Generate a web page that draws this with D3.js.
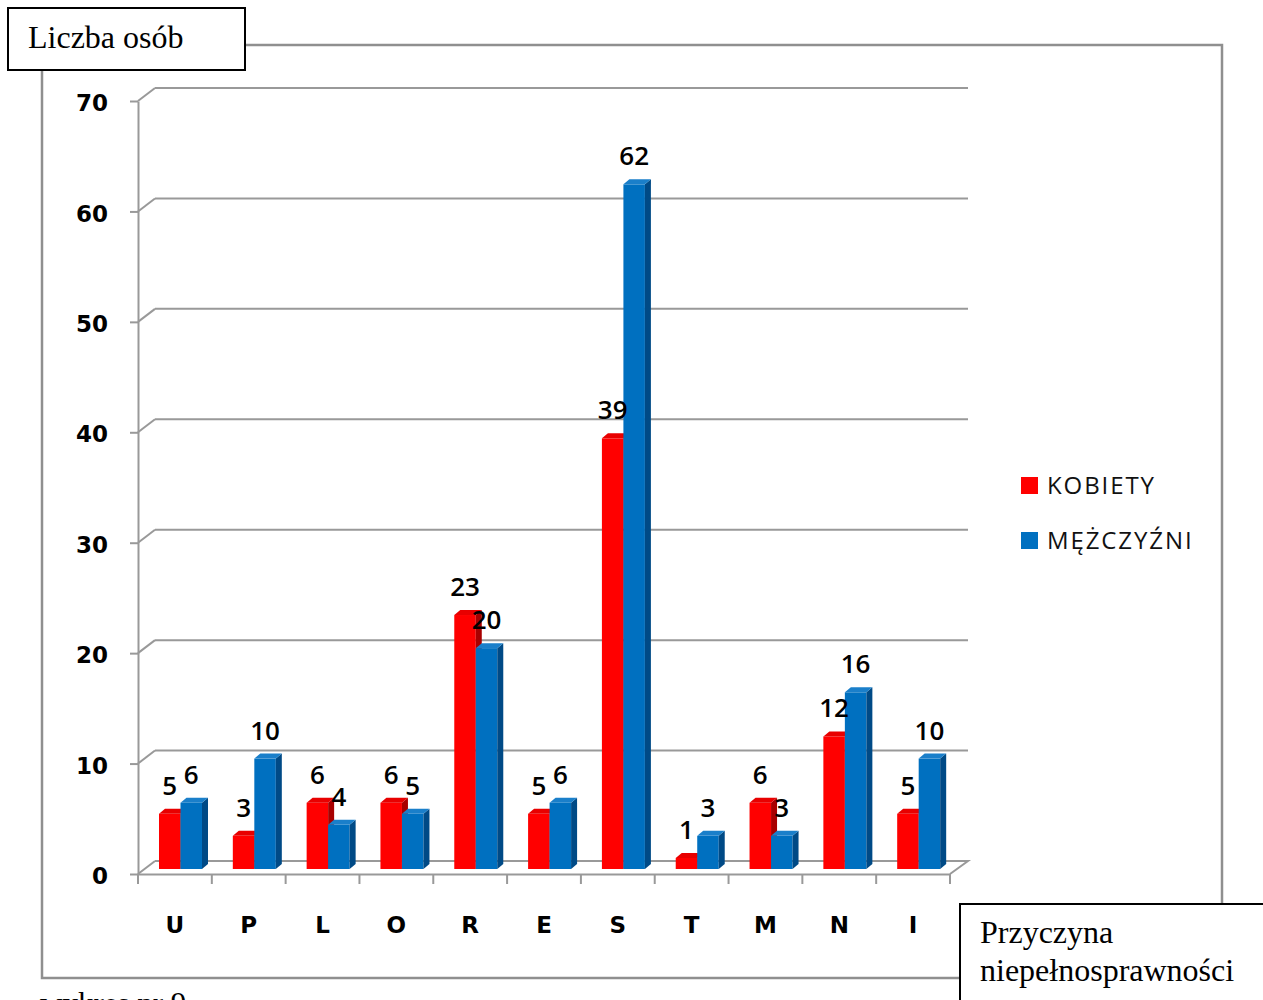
<!DOCTYPE html>
<html>
<head>
<meta charset="utf-8">
<script src="https://cdn.jsdelivr.net/npm/d3@7"></script>
<style>
  body { margin: 0; background: #fff; }
  svg { display: block; }
</style>
</head>
<body>
<div id="chart"></div>
<script>
// chart data
var categories = ["U", "P", "L", "O", "R", "E", "S", "T", "M", "N", "I"];
var seriesNames = ["KOBIETY", "MĘŻCZYŹNI"];
var kobiety = [5, 3, 6, 6, 23, 5, 39, 1, 6, 12, 5];
var mezczyzni = [6, 10, 4, 5, 20, 6, 62, 3, 3, 16, 10];
var yTicks = [0, 10, 20, 30, 40, 50, 60, 70];

var svgWidth = 1263;
var svgHeight = 1000;

var frontColors = ["#ff0000", "#0070c0"];
var topColors = ["#e80000", "#1a7fca"];
var sideColors = ["#a80000", "#004a86"];
var grey = "#999";

// wall depth offset and bar depth
var wallDx = 17, wallDy = 13;
var barDx = 6, barDy = 5, barBack = 5;

var svg = d3.select("#chart")
  .append("svg")
  .attr("width", svgWidth)
  .attr("height", svgHeight);

var x = d3.scaleBand().domain(categories).range([138, 950]);
var y = d3.scaleLinear().domain([0, 70]).range([874, 101]);
var xs = d3.scaleBand().domain(seriesNames).range([21, 64]);

// outer frame
svg.append("rect")
  .attr("x", 42).attr("y", 45)
  .attr("width", 1180).attr("height", 933)
  .attr("fill", "none")
  .attr("stroke", "#8f8f8f")
  .attr("stroke-width", 2.5);

// back wall gridlines with diagonals
var grid = svg.append("g");
yTicks.forEach(function(t) {
  var yy = y(t);
  grid.append("line")
    .attr("x1", 138).attr("y1", yy)
    .attr("x2", 138 + wallDx).attr("y2", yy - wallDy);
  if (t > 0) {
    grid.append("line")
      .attr("x1", 138 + wallDx).attr("y1", yy - wallDy)
      .attr("x2", 950 + wallDx + 1).attr("y2", yy - wallDy);
  }
});
// floor
grid.append("path")
  .attr("d", "M" + (138 + wallDx) + "," + (y(0) - wallDy) +
    "L" + (950 + wallDx + 1) + "," + (y(0) - wallDy) +
    "L" + 950 + "," + y(0))
  .attr("fill", "none");
grid.selectAll("line, path")
  .attr("stroke", grey)
  .attr("stroke-width", 2);

// y axis
var leftAxis = d3.axisLeft(y).tickValues(yTicks).tickSize(8).tickSizeOuter(0).tickPadding(22);
var yAxis = svg.append("g")
  .attr("transform", "translate(138,0)")
  .call(leftAxis);
yAxis.selectAll("path, line").attr("stroke", grey).attr("stroke-width", 2);
yAxis.selectAll("text")
  .attr("font-family", "DejaVu Sans")
  .attr("font-weight", "bold")
  .attr("font-size", 23)
  .attr("dy", "0.42em")
  .attr("fill", "#000");

// x axis
var bottomAxis = d3.axisBottom(x).tickSize(0).tickPadding(43);
var xAxis = svg.append("g")
  .attr("transform", "translate(0," + y(0) + ")")
  .call(bottomAxis);
xAxis.select(".domain").attr("stroke", grey).attr("stroke-width", 2);
xAxis.selectAll("text")
  .attr("font-family", "DejaVu Sans")
  .attr("font-weight", "bold")
  .attr("font-size", 23)
  .attr("fill", "#000");
var bounds = categories.map(function(c) { return x(c); }).concat([x.range()[1]]);
xAxis.selectAll(".bound")
  .data(bounds)
  .enter()
  .append("line")
  .attr("class", "bound")
  .attr("x1", d => d).attr("x2", d => d)
  .attr("y1", 0).attr("y2", 10)
  .attr("stroke", grey)
  .attr("stroke-width", 2);

// bars
var values = [kobiety, mezczyzni];
var bars = [];
categories.forEach(function(c, i) {
  seriesNames.forEach(function(s, j) {
    bars.push({ cat: c, s: j, v: values[j][i], x: x(c) + xs(s), w: xs.bandwidth() });
  });
});

var barG = svg.append("g");
bars.forEach(function(d) {
  var yt = y(d.v) - barBack;
  var yb = y(0) - barBack;
  var x0 = d.x, x1 = d.x + d.w;
  barG.append("rect")
    .attr("x", x0).attr("y", yt)
    .attr("width", d.w).attr("height", yb - yt)
    .attr("fill", frontColors[d.s]);
  barG.append("path")
    .attr("d", "M" + x1 + "," + yt + "L" + (x1 + barDx) + "," + (yt - barDy) +
      "L" + (x1 + barDx) + "," + (yb - barDy) + "L" + x1 + "," + yb + "Z")
    .attr("fill", sideColors[d.s]);
  barG.append("path")
    .attr("d", "M" + x0 + "," + yt + "L" + (x0 + barDx) + "," + (yt - barDy) +
      "L" + (x1 + barDx) + "," + (yt - barDy) + "L" + x1 + "," + yt + "Z")
    .attr("fill", topColors[d.s]);
});

// value labels
svg.append("g")
  .selectAll("text")
  .data(bars)
  .enter()
  .append("text")
  .attr("x", d => d.x + d.w / 2)
  .attr("y", d => y(d.v) - 24)
  .attr("text-anchor", "middle")
  .attr("font-family", "Open Sans")
  .attr("font-weight", 600)
  .attr("font-size", 26)
  .attr("fill", "#000")
  .text(d => d.v);

// legend
var legend = svg.append("g").attr("transform", "translate(1021,477)");
seriesNames.forEach(function(s, j) {
  legend.append("rect")
    .attr("x", 0).attr("y", j * 55)
    .attr("width", 17).attr("height", 17)
    .attr("fill", frontColors[j]);
  legend.append("text")
    .attr("x", 26).attr("y", j * 55 + 17)
    .attr("font-family", "Open Sans")
    .attr("font-size", 24)
    .attr("letter-spacing", 1.9)
    .attr("fill", "#111")
    .text(s);
});

// axis title boxes
svg.append("rect")
  .attr("x", 8).attr("y", 8)
  .attr("width", 237).attr("height", 62)
  .attr("fill", "#fff").attr("stroke", "#000").attr("stroke-width", 2);
svg.append("text")
  .attr("x", 28).attr("y", 48)
  .attr("font-family", "Liberation Serif")
  .attr("font-size", 32)
  .text("Liczba osób");

svg.append("rect")
  .attr("x", 960).attr("y", 904)
  .attr("width", 320).attr("height", 120)
  .attr("fill", "#fff").attr("stroke", "#000").attr("stroke-width", 2);
svg.append("text")
  .attr("x", 980).attr("y", 943)
  .attr("font-family", "Liberation Serif")
  .attr("font-size", 32)
  .text("Przyczyna");
svg.append("text")
  .attr("x", 980).attr("y", 981)
  .attr("font-family", "Liberation Serif")
  .attr("font-size", 32)
  .text("niepełnosprawności");

// caption below the frame, cut by the page edge as in the source
svg.append("text")
  .attr("x", 40).attr("y", 1014)
  .attr("font-family", "Liberation Serif")
  .attr("font-size", 31)
  .text("wykres nr 9");
</script>
</body>
</html>
